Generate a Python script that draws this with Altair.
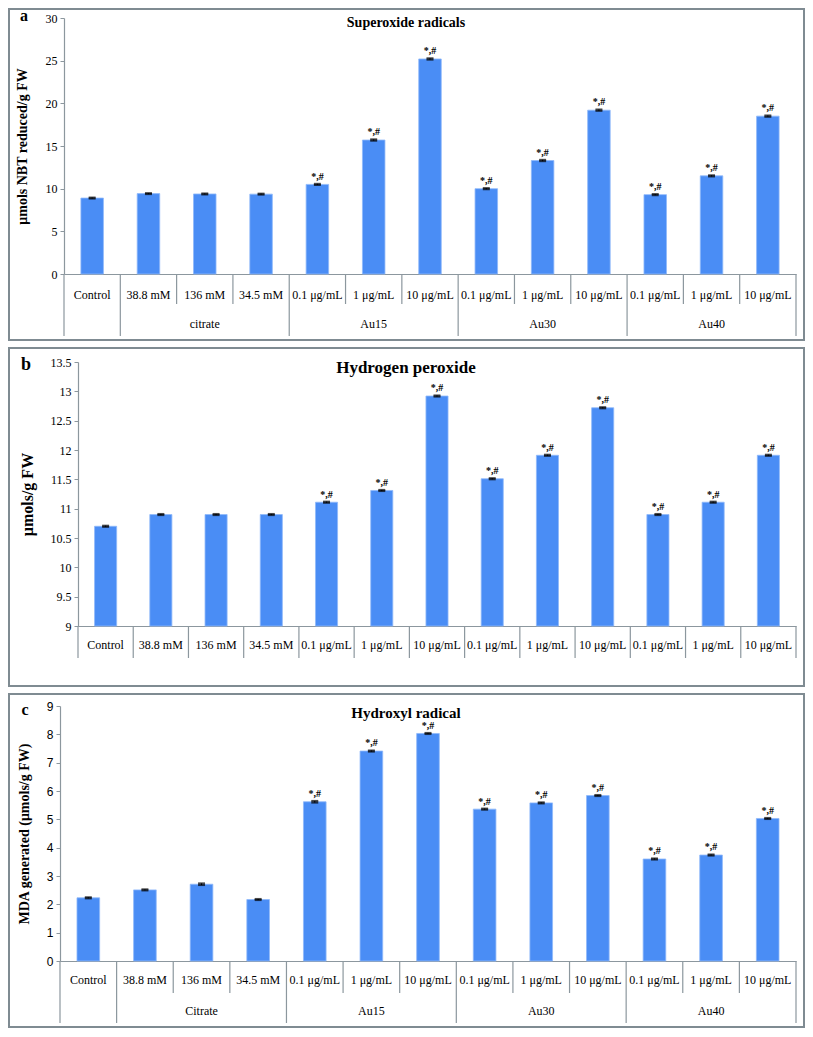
import altair as alt
import pandas as pd

# ---------------- data ----------------
doses = ["Control", "38.8 mM", "136 mM", "34.5 mM",
         "0.1 μg/mL", "1 μg/mL", "10 μg/mL",
         "0.1 μg/mL", "1 μg/mL", "10 μg/mL",
         "0.1 μg/mL", "1 μg/mL", "10 μg/mL"]
group_sizes = [1, 3, 3, 3, 3]
groups_a = ["", "citrate", "Au15", "Au30", "Au40"]
groups_c = ["", "Citrate", "Au15", "Au30", "Au40"]
significant = [False, False, False, False, True, True, True, True, True, True, True, True, True]

values_a = [8.9, 9.42, 9.38, 9.36, 10.5, 15.7, 25.2, 10.0, 13.3, 19.2, 9.3, 11.5, 18.5]
errors_a = [0.06, 0.06, 0.06, 0.06, 0.07, 0.08, 0.08, 0.07, 0.08, 0.08, 0.07, 0.07, 0.08]
ticks_a = [0, 5, 10, 15, 20, 25, 30]

values_b = [10.70, 10.90, 10.90, 10.90, 11.11, 11.31, 12.92, 11.51, 11.91, 12.72, 10.90, 11.11, 11.91]
errors_b = [0.01] * 13
ticks_b = [9, 9.5, 10, 10.5, 11, 11.5, 12, 12.5, 13, 13.5]

values_c = [2.23, 2.51, 2.71, 2.17, 5.62, 7.41, 8.03, 5.36, 5.58, 5.84, 3.60, 3.74, 5.03]
errors_c = [0.02, 0.02, 0.03, 0.02, 0.03, 0.02, 0.02, 0.02, 0.02, 0.02, 0.02, 0.02, 0.02]
ticks_c = [0, 1, 2, 3, 4, 5, 6, 7, 8, 9]

BAR = "#4A8DF5"
AXIS = "#8C979E"
BOX = "#7F8B92"
SERIF = "Liberation Serif"
SANS = "Liberation Sans"

W = 736          # common plot width (all panels share the same origin)
BOX_L, BOX_R = -51, W + 8


def member_groups(names):
    out = []
    for name, size in zip(names, group_sizes):
        out += [name] * size
    return out


def panel(letter, letter_size, letter_xy, title, title_size, title_xy,
          ytitle, ytitle_size, ytitle_x, values, errors, ticks, group_names,
          show_groups, H, x0, box_y, label_offset, tick_font,
          group_len, within_len):
    members = member_groups(groups_a)
    keys = [g + "|" + d for g, d in zip(members, doses)]
    df = pd.DataFrame({"key": keys, "value": values, "err": errors, "sig": significant})

    n = len(doses)
    yscale = alt.Scale(domain=[ticks[0], ticks[-1]], nice=False, zero=False)
    xband = alt.X("key:N", sort=keys,
                  scale=alt.Scale(domain=keys, range=[x0, W],
                                  paddingInner=0.6, paddingOuter=0.3),
                  axis=alt.Axis(title=None, labelAngle=0, ticks=False, tickSize=0,
                                labelPadding=label_offset, labelBaseline="middle",
                                labelExpr="split(datum.label, '|')[1]",
                                labelFont=SERIF, labelFontSize=12, labelColor="black",
                                labelOverlap=False, labelLimit=200,
                                domainColor=AXIS, domainWidth=1.2, grid=False))
    yaxis = alt.Axis(values=ticks, format="~g", grid=False, tickSize=4, tickColor=AXIS,
                     domainColor=AXIS, domainWidth=1.2, labelFont=tick_font,
                     labelFontSize=12, labelColor="black", labelPadding=3,
                     labelOverlap=False, offset=-x0,
                     title=ytitle, titleFont=SERIF, titleFontSize=ytitle_size,
                     titleFontWeight="bold", titleColor="black",
                     titleX=ytitle_x, titleY=H / 2, titleBaseline="middle",
                     titleAlign="center", titleAngle=270)

    one = pd.DataFrame({"t": [0]})
    box_layer = alt.Chart(one).mark_rect(fillOpacity=0, stroke=BOX, strokeWidth=2).encode(
        x=alt.value(BOX_L), x2=alt.value(BOX_R),
        y=alt.value(box_y[0]), y2=alt.value(H + box_y[1]))

    bars = alt.Chart(df).mark_bar(color=BAR, stroke="#8FB9FA", strokeWidth=0.8).encode(
        x=xband, y=alt.Y("value:Q", scale=yscale, axis=yaxis),
        y2=alt.Y2(datum=ticks[0]))

    ebars = alt.Chart(df).transform_calculate(
        lo="datum.value - datum.err", hi="datum.value + datum.err"
    ).mark_errorbar(color="black", thickness=1,
                    ticks={"size": 7, "thickness": 2, "color": "black"}).encode(
        x=xband, y=alt.Y("lo:Q", scale=yscale, axis=yaxis), y2="hi:Q")

    sig = alt.Chart(df).transform_filter("datum.sig").transform_calculate(
        hi="datum.value + datum.err", star="'*,#'"
    ).mark_text(font=SERIF, fontSize=10, fontWeight="bold", baseline="bottom", dy=-2,
                color="black").encode(
        x=xband, y=alt.Y("hi:Q", scale=yscale, axis=yaxis), text="star:N")

    core = alt.layer(bars, ebars, sig)

    # divider lines of the two-level category axis
    edges = [0]
    for s in group_sizes:
        edges.append(edges[-1] + s)
    bdf = pd.DataFrame({"pos": list(range(n + 1)),
                        "kind": ["group" if i in edges else "within" for i in range(n + 1)]})
    qscale = alt.Scale(domain=[0, n], range=[x0, W], nice=False, zero=True)
    xq = alt.X("pos:Q", scale=qscale, axis=None)
    rules_g = alt.Chart(bdf).transform_filter("datum.kind == 'group'").mark_rule(
        color=AXIS, strokeWidth=1.2).encode(x=xq, y=alt.value(H), y2=alt.value(H + group_len))
    rules_w = alt.Chart(bdf).transform_filter("datum.kind == 'within'").mark_rule(
        color=AXIS, strokeWidth=1.2).encode(x=xq, y=alt.value(H), y2=alt.value(H + within_len))

    layers = [box_layer, core, rules_g, rules_w]

    if show_groups:
        gdf = pd.DataFrame({"name": group_names, "start": edges[:-1], "end": edges[1:]})
        gtext = alt.Chart(gdf).transform_calculate(
            mid="(datum.start + datum.end) / 2"
        ).mark_text(font=SERIF, fontSize=12, baseline="middle", color="black").encode(
            x=alt.X("mid:Q", scale=qscale, axis=None),
            y=alt.value(H + 50), text="name:N")
        layers.append(gtext)

    letter_layer = alt.Chart(pd.DataFrame({"t": [letter]})).mark_text(
        font=SERIF, fontSize=letter_size, fontWeight="bold", baseline="middle",
        align="center", color="black").encode(
        text="t:N", x=alt.value(letter_xy[0]), y=alt.value(letter_xy[1]))
    title_layer = alt.Chart(pd.DataFrame({"t": [title]})).mark_text(
        font=SERIF, fontSize=title_size, fontWeight="bold", baseline="middle",
        align="center", color="black").encode(
        text="t:N", x=alt.value(title_xy[0]), y=alt.value(title_xy[1]))
    layers += [letter_layer, title_layer]

    return alt.layer(*layers).resolve_scale(x="independent").properties(width=W, height=H)


pa = panel("a", 16, (-36, -2), "Superoxide radicals", 14, (346, 5),
           "μmols NBT reduced/g FW", 14, -42, values_a, errors_a, ticks_a, groups_a, True,
           256, 4, (-9, 66), 20, SERIF, 62, 30)

pb = panel("b", 18, (-34, 3), "Hydrogen peroxide", 17, (346, 6),
           "μmols/g FW", 16, -51, values_b, errors_b, ticks_b, groups_a, False,
           264, 18, (-14, 60), 18, SERIF, 32, 32)

pc = panel("c", 16, (-35, 4), "Hydroxyl radical", 15, (346, 7),
           "MDA generated (μmols/g FW)", 14, -36, values_c, errors_c, ticks_c, groups_c, True,
           255, 0, (-12, 66), 18, SANS, 62, 32)

chart = alt.concat(pa, pb, pc, columns=1, spacing=6).properties(
    padding=0, background="white"
).configure_view(stroke=None)

chart.save("out.html", embed_options={"renderer": "svg", "actions": False})
